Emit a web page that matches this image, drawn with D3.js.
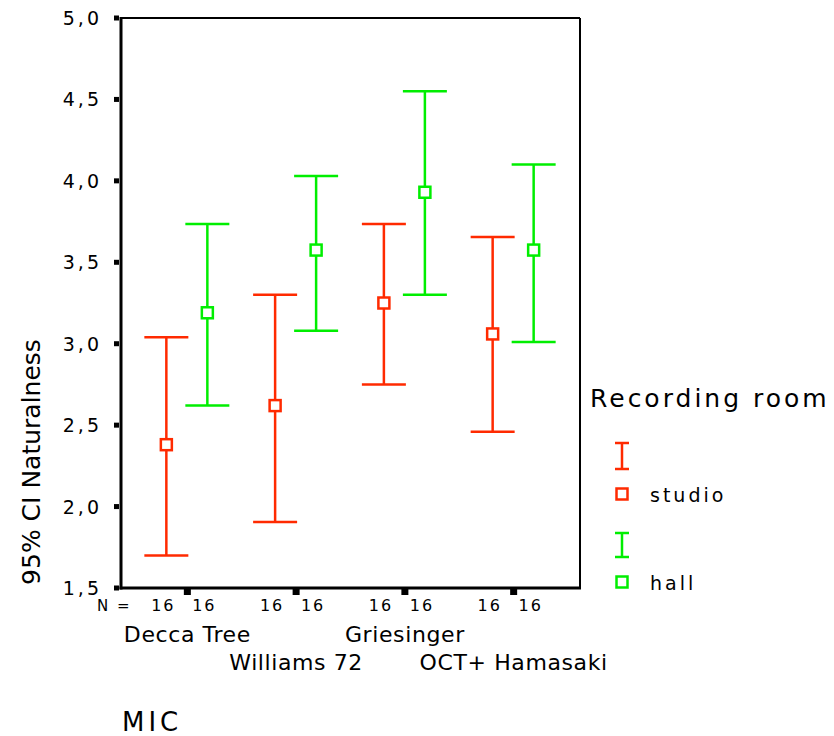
<!DOCTYPE html>
<html><head><meta charset="utf-8">
<script src="https://cdn.jsdelivr.net/npm/d3@7"></script>
<style>body{margin:0;background:#fff}svg{display:block}text{font-family:"DejaVu Sans",Verdana,sans-serif;fill:#000}</style>
</head><body>
<svg id="c" width="834" height="736"></svg>
<script>
const categories = ["Decca Tree","Williams 72","Griesinger","OCT+ Hamasaki"];
const series = ["studio","hall"];
const seriesColors = ["#ff2a00","#00ee00"];
const studioMean = [2.38, 2.62, 3.25, 3.06];
const studioLow  = [1.70, 1.905, 2.75, 2.46];
const studioHigh = [3.04, 3.30, 3.735, 3.655];
const hallMean = [3.19, 3.575, 3.93, 3.575];
const hallLow  = [2.62, 3.08, 3.30, 3.01];
const hallHigh = [3.735, 4.03, 4.55, 4.10];
const nCounts = [[16,16],[16,16],[16,16],[16,16]];
const yTicks = [1.5,2.0,2.5,3.0,3.5,4.0,4.5,5.0];

const svg = d3.select("#c");
const L=121,R=580,T=18,B=588;
const y = d3.scaleLinear().domain([1.5,5.0]).range([B,T]);
const x = d3.scalePoint().domain(categories).range([L,R]).padding(0.61);
const off = d3.scalePoint().domain(series).range([-21,20]);
const fmt = v => d3.format(".1f")(v).replace(".", ",");

// frame
svg.append("line").attr("x1",L).attr("x2",R).attr("y1",T).attr("y2",T).attr("stroke","#000").attr("stroke-width",2);
svg.append("line").attr("x1",R).attr("x2",R).attr("y1",T).attr("y2",B).attr("stroke","#000").attr("stroke-width",2);
svg.append("line").attr("x1",L).attr("x2",L).attr("y1",T-1).attr("y2",B+1.5).attr("stroke","#000").attr("stroke-width",3);
svg.append("line").attr("x1",L-1.5).attr("x2",R+1).attr("y1",B).attr("y2",B).attr("stroke","#000").attr("stroke-width",3);

// y ticks
yTicks.forEach(t=>{
  svg.append("rect").attr("x",L-7).attr("y",y(t)-2.5).attr("width",5).attr("height",5).attr("fill","#000");
  svg.append("text").attr("x",102).attr("y",y(t)+7).attr("text-anchor","end").attr("font-size",19).attr("letter-spacing",3).text(fmt(t));
});
// x ticks
categories.forEach(c=>{
  svg.append("rect").attr("x",x(c)-3.5).attr("y",B+1).attr("width",7).attr("height",6).attr("fill","#000");
});

// N labels
svg.append("text").attr("x",97).attr("y",611).attr("font-size",15).attr("letter-spacing",2).text("N =");
categories.forEach((c,i)=>{
  series.forEach((s,j)=>{
    svg.append("text").attr("x",x(c)+off(s)-3).attr("y",611).attr("text-anchor","middle").attr("font-size",16).attr("letter-spacing",2).text(nCounts[i][j]);
  });
});
// category labels staggered
categories.forEach((c,i)=>{
  svg.append("text").attr("x",x(c)).attr("y",i%2===0?642:670).attr("text-anchor","middle").attr("font-size",22).attr("letter-spacing",0.6).text(c);
});
svg.append("text").attr("x",122).attr("y",731).attr("font-size",26).attr("letter-spacing",4).text("MIC");
svg.append("text").attr("transform","translate(40,462) rotate(-90)").attr("text-anchor","middle").attr("font-size",25).text("95% CI Naturalness");

// error bars
const data = [
  {s:"studio",mean:studioMean,low:studioLow,high:studioHigh,col:seriesColors[0]},
  {s:"hall",mean:hallMean,low:hallLow,high:hallHigh,col:seriesColors[1]}
];
const cap = 22;
data.forEach(d=>{
  const g = svg.append("g");
  categories.forEach((c,i)=>{
    const cx = x(c)+off(d.s);
    g.append("line").attr("x1",cx).attr("x2",cx).attr("y1",y(d.low[i])).attr("y2",y(d.high[i])).attr("stroke",d.col).attr("stroke-width",2.5);
    g.append("line").attr("x1",cx-cap).attr("x2",cx+cap).attr("y1",y(d.low[i])).attr("y2",y(d.low[i])).attr("stroke",d.col).attr("stroke-width",2.5);
    g.append("line").attr("x1",cx-cap).attr("x2",cx+cap).attr("y1",y(d.high[i])).attr("y2",y(d.high[i])).attr("stroke",d.col).attr("stroke-width",2.5);
    g.append("rect").attr("x",cx-5.5).attr("y",y(d.mean[i])-5.5).attr("width",11).attr("height",11).attr("fill","#fff").attr("stroke",d.col).attr("stroke-width",2.5);
  });
});

// legend
svg.append("text").attr("x",590).attr("y",407).attr("font-size",25).attr("letter-spacing",3).text("Recording room");
const leg = [{s:"studio",col:seriesColors[0],bar:[443,469],sq:494,ty:502},{s:"hall",col:seriesColors[1],bar:[533,557],sq:582,ty:590}];
leg.forEach(l=>{
  const lx=622;
  svg.append("line").attr("x1",lx).attr("x2",lx).attr("y1",l.bar[0]).attr("y2",l.bar[1]).attr("stroke",l.col).attr("stroke-width",2.5);
  svg.append("line").attr("x1",lx-7).attr("x2",lx+7).attr("y1",l.bar[0]).attr("y2",l.bar[0]).attr("stroke",l.col).attr("stroke-width",2.5);
  svg.append("line").attr("x1",lx-7).attr("x2",lx+7).attr("y1",l.bar[1]).attr("y2",l.bar[1]).attr("stroke",l.col).attr("stroke-width",2.5);
  svg.append("rect").attr("x",lx-5.5).attr("y",l.sq-5.5).attr("width",11).attr("height",11).attr("fill","#fff").attr("stroke",l.col).attr("stroke-width",2.5);
  svg.append("text").attr("x",650).attr("y",l.ty).attr("font-size",19).attr("letter-spacing",3).text(l.s);
});
</script>
</body></html>
